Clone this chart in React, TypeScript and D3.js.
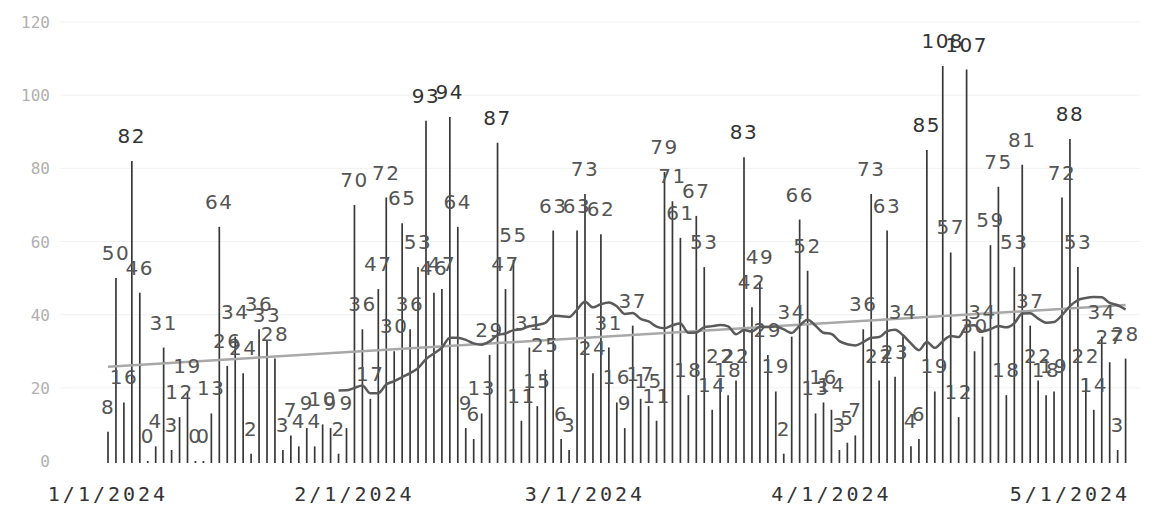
import React, { useEffect, useRef } from 'react';
import * as d3 from 'd3';

// daily values, one array per month (2024)
const janValues = [8, 50, 16, 82, 46, 0, 4, 31, 3, 12, 19, 0, 0, 13, 64, 26, 34, 24, 2, 36, 33, 28, 3, 7, 4, 9, 4, 10, 9, 2, 9];
const febValues = [70, 36, 17, 47, 72, 30, 65, 36, 53, 93, 46, 47, 94, 64, 9, 6, 13, 29, 87, 47, 55, 11, 31, 15, 25, 63, 6, 3, 63];
const marValues = [73, 24, 62, 31, 16, 9, 37, 17, 15, 11, 79, 71, 61, 18, 67, 53, 14, 22, 18, 22, 83, 42, 49, 29, 19, 2, 34, 66, 52, 13, 16];
const aprValues = [14, 3, 5, 7, 36, 73, 22, 63, 23, 34, 4, 6, 85, 19, 108, 57, 12, 107, 30, 34, 59, 75, 18, 53, 81, 37, 22, 18, 19, 72];
const mayValues = [88, 53, 22, 14, 34, 27, 3, 28];

const yTicks = [0, 20, 40, 60, 80, 100, 120];
const maWindow = 30;

interface DayPoint {
  date: Date;
  value: number;
}

const App: React.FC = () => {
  const ref = useRef<SVGSVGElement>(null);

  useEffect(() => {
    const values = [...janValues, ...febValues, ...marValues, ...aprValues, ...mayValues];
    const start = new Date(Date.UTC(2024, 0, 1));
    const data: DayPoint[] = values.map((v, i) => ({ date: d3.utcDay.offset(start, i), value: v }));

    const width = 1156;
    const height = 522;

    const svg = d3.select(ref.current);
    svg.selectAll('*').remove();
    svg.attr('width', width).attr('height', height);

    const x = d3
      .scaleUtc()
      .domain([data[0].date, data[data.length - 1].date])
      .range([108, 108 + (data.length - 1) * 7.95]);

    const y = d3.scaleLinear().domain([0, 120]).range([461, 22]);

    // faint grid
    svg
      .append('g')
      .selectAll('line')
      .data(yTicks.slice(1))
      .join('line')
      .attr('x1', 60)
      .attr('x2', 1140)
      .attr('y1', (d) => y(d))
      .attr('y2', (d) => y(d))
      .attr('stroke', '#f1f1f1')
      .attr('stroke-width', 1);

    // y labels
    svg
      .append('g')
      .selectAll('text')
      .data(yTicks)
      .join('text')
      .attr('x', 50)
      .attr('y', (d) => y(d) + 6)
      .attr('text-anchor', 'end')
      .attr('font-family', 'DejaVu Sans Mono')
      .attr('font-size', 16)
      .attr('fill', '#b0b0b0')
      .text((d) => d);

    // x labels
    svg
      .append('g')
      .selectAll('text')
      .data(x.ticks(d3.utcMonth.every(1)!))
      .join('text')
      .attr('x', (d) => x(d))
      .attr('y', 501)
      .attr('text-anchor', 'middle')
      .attr('font-family', 'DejaVu Sans Mono')
      .attr('font-size', 20)
      .attr('letter-spacing', 3)
      .attr('fill', '#333')
      .text(d3.utcFormat('%-m/%-d/%Y'));

    // needle bars
    svg
      .append('g')
      .selectAll('line')
      .data(data)
      .join('line')
      .attr('x1', (d) => x(d.date))
      .attr('x2', (d) => x(d.date))
      .attr('y1', y(0) + 2)
      .attr('y2', (d) => y(d.value))
      .attr('stroke', '#383838')
      .attr('stroke-width', 1.7);

    // linear trend
    const n = data.length;
    const xs = data.map((_, i) => i);
    const mx = d3.mean(xs) as number;
    const my = d3.mean(values) as number;
    const slope =
      d3.sum(xs, (xi, i) => (xi - mx) * (values[i] - my)) / d3.sum(xs, (xi) => (xi - mx) * (xi - mx));
    const intercept = my - slope * mx;
    svg
      .append('line')
      .attr('x1', x(data[0].date))
      .attr('x2', x(data[n - 1].date))
      .attr('y1', y(intercept))
      .attr('y2', y(intercept + slope * (n - 1)))
      .attr('stroke', '#a8a8a8')
      .attr('stroke-width', 2.5);

    // moving average
    const ma: DayPoint[] = data.slice(maWindow - 1).map((d, i) => ({
      date: d.date,
      value: d3.mean(values.slice(i, i + maWindow)) as number,
    }));
    const line = d3
      .line<DayPoint>()
      .x((d) => x(d.date))
      .y((d) => y(d.value))
      .curve(d3.curveMonotoneX);
    svg
      .append('path')
      .datum(ma)
      .attr('fill', 'none')
      .attr('stroke', '#5a5a5a')
      .attr('stroke-width', 2.5)
      .attr('d', line);

    // value labels
    svg
      .append('g')
      .selectAll('text')
      .data(data)
      .join('text')
      .attr('x', (d) => x(d.date))
      .attr('y', (d) => y(d.value) - 18)
      .attr('text-anchor', 'middle')
      .attr('font-family', 'DejaVu Sans')
      .attr('font-size', 20)
      .attr('letter-spacing', 1.5)
      .attr('fill', (d) => (d.value >= 82 ? '#333' : '#555'))
      .text((d) => d.value);
  }, []);

  return (
    <svg
      ref={ref}
      style={{ position: 'absolute', left: 0, top: 0, background: '#fff' }}
    ></svg>
  );
};

export default App;
